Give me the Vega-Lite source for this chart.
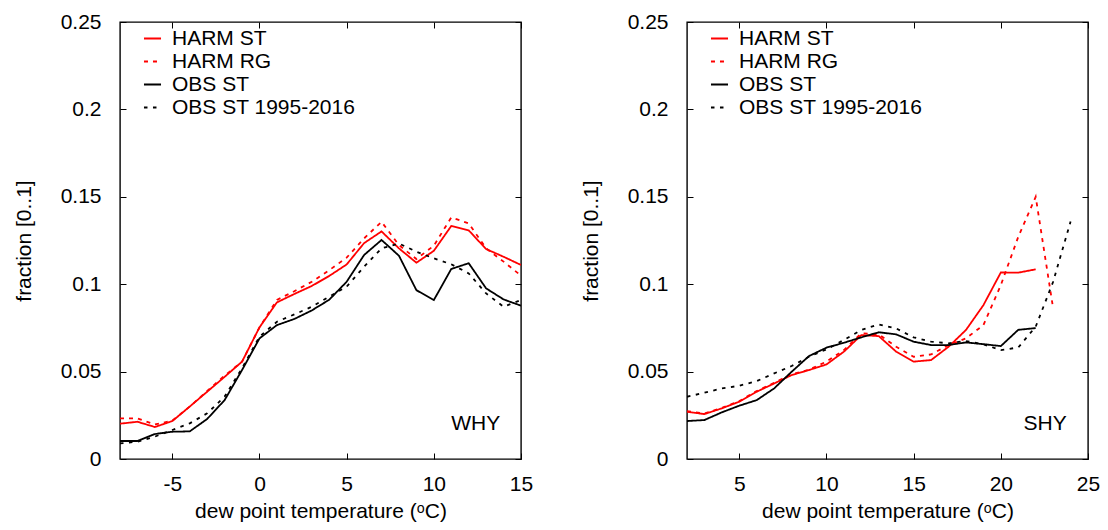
{
  "$schema": "https://vega.github.io/schema/vega-lite/v6.json",
  "background": "white",
  "padding": {"left": 12, "top": 10, "right": 5, "bottom": 5},
  "config": {
    "font": "Liberation Sans",
    "view": {"stroke": "black", "strokeWidth": 1.4},
    "axis": {
      "grid": false,
      "domain": false,
      "tickColor": "black",
      "tickSize": -6,
      "tickWidth": 1,
      "labelFlush": false,
      "labelOverlap": false,
      "labelFont": "Liberation Sans",
      "labelFontSize": 21,
      "labelColor": "black",
      "titleFont": "Liberation Sans",
      "titleFontSize": 21,
      "titleFontWeight": "normal",
      "titleColor": "black"
    },
    "legend": {
      "labelFont": "Liberation Sans",
      "labelFontSize": 21,
      "labelColor": "black",
      "labelLimit": 0,
      "symbolType": "stroke",
      "symbolSize": 290,
      "symbolStrokeWidth": 1.8,
      "labelOffset": 9,
      "rowPadding": 1,
      "padding": 0
    }
  },
  "datasets": {
    "why": [
      {"t": -8, "f": 0.0202, "s": "HARM ST"}, {"t": -7, "f": 0.0213, "s": "HARM ST"}, {"t": -6, "f": 0.0183, "s": "HARM ST"},
      {"t": -5, "f": 0.0217, "s": "HARM ST"}, {"t": -4, "f": 0.0300, "s": "HARM ST"}, {"t": -3, "f": 0.0385, "s": "HARM ST"},
      {"t": -2, "f": 0.0470, "s": "HARM ST"}, {"t": -1, "f": 0.0557, "s": "HARM ST"}, {"t": 0, "f": 0.0753, "s": "HARM ST"},
      {"t": 1, "f": 0.0896, "s": "HARM ST"}, {"t": 2, "f": 0.0944, "s": "HARM ST"}, {"t": 3, "f": 0.0990, "s": "HARM ST"},
      {"t": 4, "f": 0.1047, "s": "HARM ST"}, {"t": 5, "f": 0.1113, "s": "HARM ST"}, {"t": 6, "f": 0.1235, "s": "HARM ST"},
      {"t": 7, "f": 0.1302, "s": "HARM ST"}, {"t": 8, "f": 0.1205, "s": "HARM ST"}, {"t": 9, "f": 0.1123, "s": "HARM ST"},
      {"t": 10, "f": 0.1191, "s": "HARM ST"}, {"t": 11, "f": 0.1333, "s": "HARM ST"}, {"t": 12, "f": 0.1308, "s": "HARM ST"},
      {"t": 13, "f": 0.1201, "s": "HARM ST"}, {"t": 14, "f": 0.1157, "s": "HARM ST"}, {"t": 15, "f": 0.1110, "s": "HARM ST"},

      {"t": -8, "f": 0.0232, "s": "HARM RG"}, {"t": -7, "f": 0.0232, "s": "HARM RG"}, {"t": -6, "f": 0.0198, "s": "HARM RG"},
      {"t": -5, "f": 0.0219, "s": "HARM RG"}, {"t": -4, "f": 0.0300, "s": "HARM RG"}, {"t": -3, "f": 0.0389, "s": "HARM RG"},
      {"t": -2, "f": 0.0477, "s": "HARM RG"}, {"t": -1, "f": 0.0557, "s": "HARM RG"}, {"t": 0, "f": 0.0753, "s": "HARM RG"},
      {"t": 1, "f": 0.0910, "s": "HARM RG"}, {"t": 2, "f": 0.0960, "s": "HARM RG"}, {"t": 3, "f": 0.1014, "s": "HARM RG"},
      {"t": 4, "f": 0.1080, "s": "HARM RG"}, {"t": 5, "f": 0.1152, "s": "HARM RG"}, {"t": 6, "f": 0.1262, "s": "HARM RG"},
      {"t": 7, "f": 0.1357, "s": "HARM RG"}, {"t": 8, "f": 0.1224, "s": "HARM RG"}, {"t": 9, "f": 0.1144, "s": "HARM RG"},
      {"t": 10, "f": 0.1220, "s": "HARM RG"}, {"t": 11, "f": 0.1382, "s": "HARM RG"}, {"t": 12, "f": 0.1348, "s": "HARM RG"},
      {"t": 13, "f": 0.1205, "s": "HARM RG"}, {"t": 14, "f": 0.1129, "s": "HARM RG"}, {"t": 15, "f": 0.1049, "s": "HARM RG"},

      {"t": -8, "f": 0.0103, "s": "OBS ST"}, {"t": -7, "f": 0.0103, "s": "OBS ST"}, {"t": -6, "f": 0.0143, "s": "OBS ST"},
      {"t": -5, "f": 0.0156, "s": "OBS ST"}, {"t": -4, "f": 0.0158, "s": "OBS ST"}, {"t": -3, "f": 0.0229, "s": "OBS ST"},
      {"t": -2, "f": 0.0337, "s": "OBS ST"}, {"t": -1, "f": 0.0509, "s": "OBS ST"}, {"t": 0, "f": 0.0690, "s": "OBS ST"},
      {"t": 1, "f": 0.0766, "s": "OBS ST"}, {"t": 2, "f": 0.0801, "s": "OBS ST"}, {"t": 3, "f": 0.0850, "s": "OBS ST"},
      {"t": 4, "f": 0.0911, "s": "OBS ST"}, {"t": 5, "f": 0.1014, "s": "OBS ST"}, {"t": 6, "f": 0.1167, "s": "OBS ST"},
      {"t": 7, "f": 0.1253, "s": "OBS ST"}, {"t": 8, "f": 0.1163, "s": "OBS ST"}, {"t": 9, "f": 0.0966, "s": "OBS ST"},
      {"t": 10, "f": 0.0909, "s": "OBS ST"}, {"t": 11, "f": 0.1087, "s": "OBS ST"}, {"t": 12, "f": 0.1120, "s": "OBS ST"},
      {"t": 13, "f": 0.0976, "s": "OBS ST"}, {"t": 14, "f": 0.0913, "s": "OBS ST"}, {"t": 15, "f": 0.0877, "s": "OBS ST"},

      {"t": -8, "f": 0.0089, "s": "OBS ST 1995-2016"}, {"t": -7, "f": 0.0099, "s": "OBS ST 1995-2016"}, {"t": -6, "f": 0.0128, "s": "OBS ST 1995-2016"},
      {"t": -5, "f": 0.0166, "s": "OBS ST 1995-2016"}, {"t": -4, "f": 0.0204, "s": "OBS ST 1995-2016"}, {"t": -3, "f": 0.0261, "s": "OBS ST 1995-2016"},
      {"t": -2, "f": 0.0357, "s": "OBS ST 1995-2016"}, {"t": -1, "f": 0.0519, "s": "OBS ST 1995-2016"}, {"t": 0, "f": 0.0700, "s": "OBS ST 1995-2016"},
      {"t": 1, "f": 0.0785, "s": "OBS ST 1995-2016"}, {"t": 2, "f": 0.0827, "s": "OBS ST 1995-2016"}, {"t": 3, "f": 0.0871, "s": "OBS ST 1995-2016"},
      {"t": 4, "f": 0.0929, "s": "OBS ST 1995-2016"}, {"t": 5, "f": 0.0986, "s": "OBS ST 1995-2016"}, {"t": 6, "f": 0.1100, "s": "OBS ST 1995-2016"},
      {"t": 7, "f": 0.1205, "s": "OBS ST 1995-2016"}, {"t": 8, "f": 0.1233, "s": "OBS ST 1995-2016"}, {"t": 9, "f": 0.1186, "s": "OBS ST 1995-2016"},
      {"t": 10, "f": 0.1148, "s": "OBS ST 1995-2016"}, {"t": 11, "f": 0.1114, "s": "OBS ST 1995-2016"}, {"t": 12, "f": 0.1062, "s": "OBS ST 1995-2016"},
      {"t": 13, "f": 0.0947, "s": "OBS ST 1995-2016"}, {"t": 14, "f": 0.0871, "s": "OBS ST 1995-2016"}, {"t": 15, "f": 0.0909, "s": "OBS ST 1995-2016"}
    ],
    "shy": [
      {"t": 2, "f": 0.0270, "s": "HARM ST"}, {"t": 3, "f": 0.0257, "s": "HARM ST"}, {"t": 4, "f": 0.0290, "s": "HARM ST"},
      {"t": 5, "f": 0.0328, "s": "HARM ST"}, {"t": 6, "f": 0.0385, "s": "HARM ST"}, {"t": 7, "f": 0.0432, "s": "HARM ST"},
      {"t": 8, "f": 0.0480, "s": "HARM ST"}, {"t": 9, "f": 0.0509, "s": "HARM ST"}, {"t": 10, "f": 0.0541, "s": "HARM ST"},
      {"t": 11, "f": 0.0614, "s": "HARM ST"}, {"t": 12, "f": 0.0709, "s": "HARM ST"}, {"t": 13, "f": 0.0703, "s": "HARM ST"},
      {"t": 14, "f": 0.0614, "s": "HARM ST"}, {"t": 15, "f": 0.0557, "s": "HARM ST"}, {"t": 16, "f": 0.0566, "s": "HARM ST"},
      {"t": 17, "f": 0.0642, "s": "HARM ST"}, {"t": 18, "f": 0.0738, "s": "HARM ST"}, {"t": 19, "f": 0.0880, "s": "HARM ST"},
      {"t": 20, "f": 0.1067, "s": "HARM ST"}, {"t": 21, "f": 0.1066, "s": "HARM ST"}, {"t": 22, "f": 0.1085, "s": "HARM ST"},

      {"t": 2, "f": 0.0274, "s": "HARM RG"}, {"t": 3, "f": 0.0261, "s": "HARM RG"}, {"t": 4, "f": 0.0293, "s": "HARM RG"},
      {"t": 5, "f": 0.0331, "s": "HARM RG"}, {"t": 6, "f": 0.0389, "s": "HARM RG"}, {"t": 7, "f": 0.0436, "s": "HARM RG"},
      {"t": 8, "f": 0.0484, "s": "HARM RG"}, {"t": 9, "f": 0.0511, "s": "HARM RG"}, {"t": 10, "f": 0.0557, "s": "HARM RG"},
      {"t": 11, "f": 0.0623, "s": "HARM RG"}, {"t": 12, "f": 0.0719, "s": "HARM RG"}, {"t": 13, "f": 0.0713, "s": "HARM RG"},
      {"t": 14, "f": 0.0642, "s": "HARM RG"}, {"t": 15, "f": 0.0585, "s": "HARM RG"}, {"t": 16, "f": 0.0598, "s": "HARM RG"},
      {"t": 17, "f": 0.0652, "s": "HARM RG"}, {"t": 18, "f": 0.0690, "s": "HARM RG"}, {"t": 19, "f": 0.0766, "s": "HARM RG"},
      {"t": 20, "f": 0.0995, "s": "HARM RG"}, {"t": 21, "f": 0.1271, "s": "HARM RG"}, {"t": 22, "f": 0.1500, "s": "HARM RG"},
      {"t": 23, "f": 0.0862, "s": "HARM RG"},

      {"t": 2, "f": 0.0217, "s": "OBS ST"}, {"t": 3, "f": 0.0223, "s": "OBS ST"}, {"t": 4, "f": 0.0267, "s": "OBS ST"},
      {"t": 5, "f": 0.0305, "s": "OBS ST"}, {"t": 6, "f": 0.0337, "s": "OBS ST"}, {"t": 7, "f": 0.0404, "s": "OBS ST"},
      {"t": 8, "f": 0.0499, "s": "OBS ST"}, {"t": 9, "f": 0.0589, "s": "OBS ST"}, {"t": 10, "f": 0.0637, "s": "OBS ST"},
      {"t": 11, "f": 0.0665, "s": "OBS ST"}, {"t": 12, "f": 0.0696, "s": "OBS ST"}, {"t": 13, "f": 0.0725, "s": "OBS ST"},
      {"t": 14, "f": 0.0713, "s": "OBS ST"}, {"t": 15, "f": 0.0671, "s": "OBS ST"}, {"t": 16, "f": 0.0652, "s": "OBS ST"},
      {"t": 17, "f": 0.0652, "s": "OBS ST"}, {"t": 18, "f": 0.0667, "s": "OBS ST"}, {"t": 19, "f": 0.0657, "s": "OBS ST"},
      {"t": 20, "f": 0.0646, "s": "OBS ST"}, {"t": 21, "f": 0.0739, "s": "OBS ST"}, {"t": 22, "f": 0.0749, "s": "OBS ST"},

      {"t": 2, "f": 0.0356, "s": "OBS ST 1995-2016"}, {"t": 3, "f": 0.0379, "s": "OBS ST 1995-2016"}, {"t": 4, "f": 0.0404, "s": "OBS ST 1995-2016"},
      {"t": 5, "f": 0.0419, "s": "OBS ST 1995-2016"}, {"t": 6, "f": 0.0446, "s": "OBS ST 1995-2016"}, {"t": 7, "f": 0.0490, "s": "OBS ST 1995-2016"},
      {"t": 8, "f": 0.0532, "s": "OBS ST 1995-2016"}, {"t": 9, "f": 0.0585, "s": "OBS ST 1995-2016"}, {"t": 10, "f": 0.0627, "s": "OBS ST 1995-2016"},
      {"t": 11, "f": 0.0681, "s": "OBS ST 1995-2016"}, {"t": 12, "f": 0.0738, "s": "OBS ST 1995-2016"}, {"t": 13, "f": 0.0770, "s": "OBS ST 1995-2016"},
      {"t": 14, "f": 0.0747, "s": "OBS ST 1995-2016"}, {"t": 15, "f": 0.0696, "s": "OBS ST 1995-2016"}, {"t": 16, "f": 0.0671, "s": "OBS ST 1995-2016"},
      {"t": 17, "f": 0.0662, "s": "OBS ST 1995-2016"}, {"t": 18, "f": 0.0675, "s": "OBS ST 1995-2016"}, {"t": 19, "f": 0.0656, "s": "OBS ST 1995-2016"},
      {"t": 20, "f": 0.0623, "s": "OBS ST 1995-2016"}, {"t": 21, "f": 0.0638, "s": "OBS ST 1995-2016"}, {"t": 22, "f": 0.0757, "s": "OBS ST 1995-2016"},
      {"t": 23, "f": 0.1014, "s": "OBS ST 1995-2016"}, {"t": 24, "f": 0.1358, "s": "OBS ST 1995-2016"}
    ],
    "whyLabel": [{"t": 11.0, "f": 0.02, "label": "WHY"}],
    "shyLabel": [{"t": 21.3, "f": 0.02, "label": "SHY"}]
  },
  "spacing": 45,
  "resolve": {
    "scale": {"color": "independent", "strokeDash": "independent"},
    "legend": {"color": "independent", "strokeDash": "independent"}
  },
  "hconcat": [
    {
      "width": 401,
      "height": 437,
      "resolve": {"axis": {"x": "independent", "y": "independent"}},
      "layer": [
        {
          "data": {"name": "why"},
          "mark": {"type": "line", "strokeWidth": 1.8, "clip": true},
          "encoding": {
            "x": {
              "field": "t", "type": "quantitative",
              "scale": {"domain": [-8, 15], "nice": false, "zero": false},
              "axis": {"values": [-5, 0, 5, 10, 15], "labelExpr": "replace(datum.label, '−', '-')", "title": "dew point temperature (ᵒC)", "labelPadding": 20, "titlePadding": 6}
            },
            "y": {
              "field": "f", "type": "quantitative",
              "scale": {"domain": [0, 0.25], "nice": false},
              "axis": {"values": [0, 0.05, 0.1, 0.15, 0.2, 0.25], "format": "~g", "title": "fraction [0..1]", "labelPadding": 25, "titlePadding": 26}
            },
            "color": {
              "field": "s", "type": "nominal",
              "scale": {"domain": ["HARM ST", "HARM RG", "OBS ST", "OBS ST 1995-2016"], "range": ["#ff0000", "#ff0000", "#000000", "#000000"]},
              "legend": {"title": null, "orient": "none", "legendX": 22, "legendY": 6}
            },
            "strokeDash": {
              "field": "s", "type": "nominal",
              "scale": {"domain": ["HARM ST", "HARM RG", "OBS ST", "OBS ST 1995-2016"], "range": [[1, 0], [4, 5], [1, 0], [3.5, 5.5]]},
              "legend": {"title": null, "orient": "none", "legendX": 22, "legendY": 6}
            }
          }
        },
        {
          "data": {"name": "whyLabel"},
          "mark": {"type": "text", "font": "Liberation Sans", "fontSize": 21, "align": "left", "baseline": "middle", "color": "black"},
          "encoding": {
            "x": {
              "field": "t", "type": "quantitative",
              "scale": {"domain": [-8, 15], "nice": false, "zero": false},
              "axis": {"orient": "top", "values": [-5, 0, 5, 10, 15], "labels": false, "title": null}
            },
            "y": {
              "field": "f", "type": "quantitative",
              "scale": {"domain": [0, 0.25], "nice": false},
              "axis": {"orient": "right", "values": [0, 0.05, 0.1, 0.15, 0.2, 0.25], "labels": false, "title": null}
            },
            "text": {"field": "label"}
          }
        }
      ]
    },
    {
      "width": 401,
      "height": 437,
      "resolve": {"axis": {"x": "independent", "y": "independent"}},
      "layer": [
        {
          "data": {"name": "shy"},
          "mark": {"type": "line", "strokeWidth": 1.8, "clip": true},
          "encoding": {
            "x": {
              "field": "t", "type": "quantitative",
              "scale": {"domain": [2, 25], "nice": false, "zero": false},
              "axis": {"values": [5, 10, 15, 20, 25], "title": "dew point temperature (ᵒC)", "labelPadding": 20, "titlePadding": 6}
            },
            "y": {
              "field": "f", "type": "quantitative",
              "scale": {"domain": [0, 0.25], "nice": false},
              "axis": {"values": [0, 0.05, 0.1, 0.15, 0.2, 0.25], "format": "~g", "title": "fraction [0..1]", "labelPadding": 25, "titlePadding": 26}
            },
            "color": {
              "field": "s", "type": "nominal",
              "scale": {"domain": ["HARM ST", "HARM RG", "OBS ST", "OBS ST 1995-2016"], "range": ["#ff0000", "#ff0000", "#000000", "#000000"]},
              "legend": {"title": null, "orient": "none", "legendX": 22, "legendY": 6}
            },
            "strokeDash": {
              "field": "s", "type": "nominal",
              "scale": {"domain": ["HARM ST", "HARM RG", "OBS ST", "OBS ST 1995-2016"], "range": [[1, 0], [4, 5], [1, 0], [3.5, 5.5]]},
              "legend": {"title": null, "orient": "none", "legendX": 22, "legendY": 6}
            }
          }
        },
        {
          "data": {"name": "shyLabel"},
          "mark": {"type": "text", "font": "Liberation Sans", "fontSize": 21, "align": "left", "baseline": "middle", "color": "black"},
          "encoding": {
            "x": {
              "field": "t", "type": "quantitative",
              "scale": {"domain": [2, 25], "nice": false, "zero": false},
              "axis": {"orient": "top", "values": [5, 10, 15, 20, 25], "labels": false, "title": null}
            },
            "y": {
              "field": "f", "type": "quantitative",
              "scale": {"domain": [0, 0.25], "nice": false},
              "axis": {"orient": "right", "values": [0, 0.05, 0.1, 0.15, 0.2, 0.25], "labels": false, "title": null}
            },
            "text": {"field": "label"}
          }
        }
      ]
    }
  ]
}
